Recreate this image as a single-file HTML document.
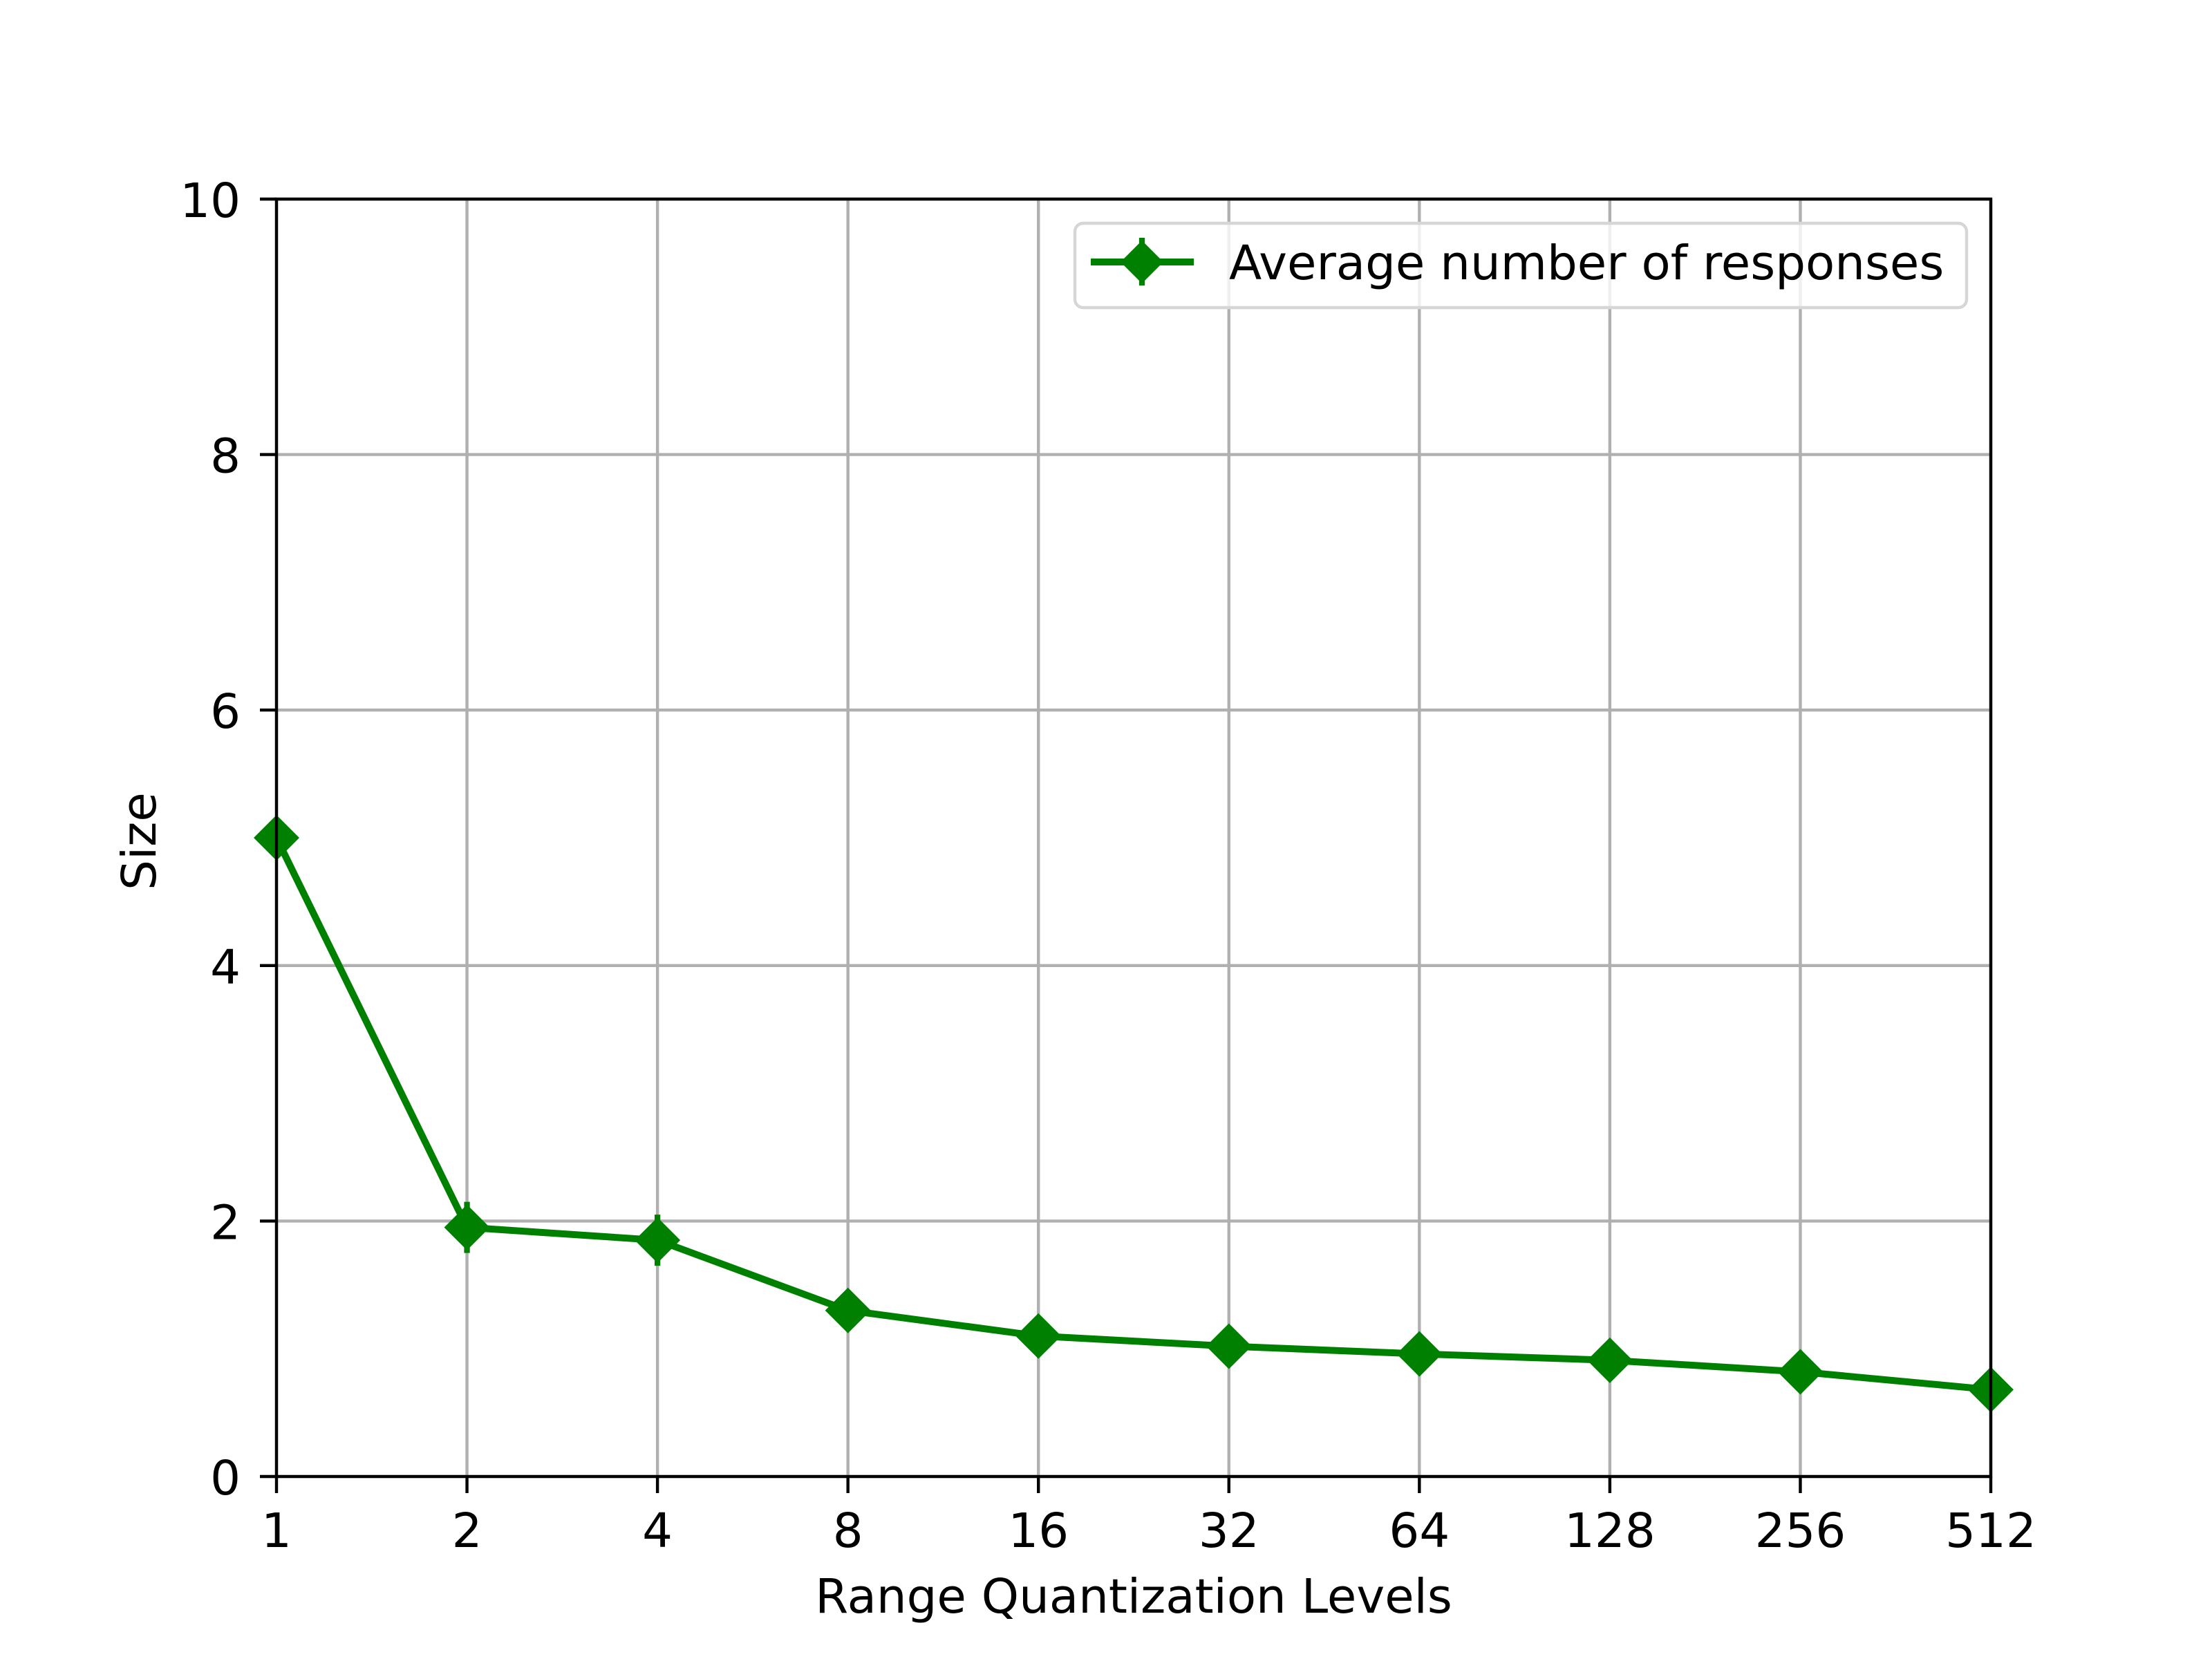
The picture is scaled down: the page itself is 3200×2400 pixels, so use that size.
<!DOCTYPE html>
<html><head><meta charset="utf-8"><style>
html,body{margin:0;padding:0;background:#fff}
svg{display:block}
text{font-family:"DejaVu Sans","Liberation Sans",sans-serif;fill:#000}
</style></head><body>
<svg id="chart" width="3200" height="2400" viewBox="0 0 3200 2400" xmlns="http://www.w3.org/2000/svg">
<rect width="3200" height="2400" fill="#fff"/>
<g id="grid"></g>
<g id="series"></g>
<g id="axes"></g>
<text x="1640" y="2333" font-size="69" text-anchor="middle">Range Quantization Levels</text>
<text x="0" y="0" font-size="69" text-anchor="middle" transform="translate(225,1217) rotate(-90)">Size</text>
<g>
<rect x="1555" y="323" width="1290" height="122" rx="12" fill="#fff" fill-opacity="0.8" stroke="#d6d6d6" stroke-width="4.4"/>
<line x1="1578" y1="379" x2="1727" y2="379" stroke="#008000" stroke-width="10"/>
<line x1="1652" y1="344" x2="1652" y2="413" stroke="#008000" stroke-width="8.3"/>
<polygon points="1652,348 1683,379 1652,410 1621,379" fill="#008000"/>
<text x="1778" y="404" font-size="69">Average number of responses</text>
</g>
</svg>
<script>
const categories = ["1","2","4","8","16","32","64","128","256","512"];
const values = [5.0, 1.95, 1.85, 1.3, 1.1, 1.02, 0.96, 0.91, 0.82, 0.68];
const errors = [0.0, 0.2, 0.2, 0.05, 0.05, 0.03, 0.03, 0.03, 0.03, 0.03];
const yTicks = [0, 2, 4, 6, 8, 10];

const L=400,R=2880,T=288,B=2136,YMAX=10;
const NS="http://www.w3.org/2000/svg";
function xs(i){return L+(R-L)*i/(categories.length-1);}
function ys(v){return B-(B-T)*v/YMAX;}
function mk(tag,attrs,parent){const e=document.createElementNS(NS,tag);for(const k in attrs)e.setAttribute(k,attrs[k]);parent.appendChild(e);return e;}
const grid=document.getElementById('grid'),axes=document.getElementById('axes'),series=document.getElementById('series');
categories.forEach((c,i)=>{
  const g=mk('line',{x1:xs(i),x2:xs(i),y1:T,y2:B,stroke:'#b0b0b0','stroke-width':4.4},grid);
  
  
  const t=mk('line',{x1:xs(i),x2:xs(i),y1:B,y2:B+24,stroke:'#000','stroke-width':4.4},axes);
  
  
  const l=mk('text',{x:xs(i),y:2238,'font-size':69,'text-anchor':'middle'},axes);
  l.textContent=c;
  
  
});
yTicks.forEach(v=>{
  const g=mk('line',{x1:L,x2:R,y1:ys(v),y2:ys(v),stroke:'#b0b0b0','stroke-width':4.4},grid);
  
  
  const t=mk('line',{x1:L-24,x2:L,y1:ys(v),y2:ys(v),stroke:'#000','stroke-width':4.4},axes);
  
  
  const l=mk('text',{x:348,y:ys(v)+26,'font-size':69,'text-anchor':'end'},axes);
  l.textContent=v;
  
  
});
const frame=mk('rect',{x:L,y:T,width:R-L,height:B-T,fill:'none',stroke:'#000','stroke-width':4.4},axes);


const pl=mk('polyline',{points:values.map((v,i)=>xs(i)+','+ys(v)).join(' '),fill:'none',stroke:'#008000','stroke-width':10,'stroke-linejoin':'round'},series);


values.forEach((v,i)=>{
  const x=xs(i),y=ys(v);
  const e=mk('line',{x1:x,x2:x,y1:ys(v+errors[i]),y2:ys(v-errors[i]),stroke:'#008000','stroke-width':8.3},series);
  
  
  const d=33;
  const m=mk('polygon',{points:`${x},${y-d} ${x+d},${y} ${x},${y+d} ${x-d},${y}`,fill:'#008000'},series);
  
  
});
</script>
</body></html>
